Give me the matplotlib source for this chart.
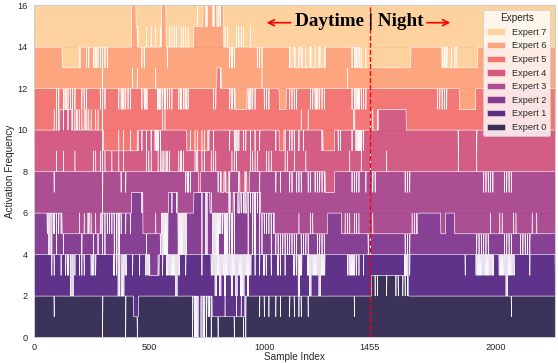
import numpy as np
import matplotlib
matplotlib.use("Agg")
import matplotlib.pyplot as plt
import seaborn as sns

# ---------------- data ----------------
N_SAMPLES = 2257
BLOCK = 10                     # samples per code character
experts = [f"Expert {i}" for i in range(8)]
x_ticks = [0, 500, 1000, 1455, 2000]
y_ticks = list(range(0, 17, 2))
split_index = 1455

# Cumulative activation level reached after each expert (expert 0 .. expert 6),
# read from the picture as offset from its nominal level 2*(k+1), one code per 10 samples.
# '.'=0 '-'=-1 '='=-2 '+'=+1 '#'=+2 ; lower/upper case letters add 1-sample spikes:
# v/V dip -1, w/W dip -2, ^/A spike +1, u: -1 spiking to 0, y: -1 dipping to -2,
# n: +1 dipping to 0, h: +1 spiking to +2, k: +2 dipping to +1, q/Q: +1 dipping to -2
level_after_expert0 = (
    "........v." ".........." ".........w" ".........w" "...-y....."
    ".........." "........wW" "W=wWwVw--y" "--u---yu-u" "yw.....v.v"
    ".v..v.v..." "v.v.vv..v." ".........." "........v." "......+nn+"
    "++n+++nn+n" "nn........" ".........." ".........." ".........."
    "......v..." ".........." "......"
)
level_after_expert1 = (
    ".......vv." ".v.vVwWv.v" "vv..vVv..." "....VvWwWV" "..v..v..VV"
    "---u.v.VVV" "VWV..v...." "..v...vVWV" "WVWVVWVWVW" "WVWV.v.v.V"
    "v.v..Vv.v." "..VvWV..VW" "VVVWVV...." ".....vVVVv" "v.v......."
    ".........." "VVv......." ".........." "......v..." ".VVVVVVVV."
    ".VVVWVVV.." "....v....." ".....v"
)
level_after_expert2 = (
    ".....vWwVw" "vvy------u" "yu-vuyuyuw" "wvvvwwWv.v" ".v++++n-y-"
    "--u-yWWW+n" "+nWWWW...+" "++q+Q+^WWW" "VvWWqWq+^n" "n^qnqQnqwv"
    "vvwvyyyyyy" "yyyyuyyyyu" "u-yyyy-..." "...-uuu-uu" "u---yyu---"
    "----------" "yyyuuu...." "......--.." "..--------" "-yyyyyyu--"
    "-uuyyyyuu-" "yyyyyu-u--" "------"
)
level_after_expert3 = (
    "........v^" "..^....^.." ".....^^.^w" "^..^..^v^v" "........^^"
    "^..^^A^A^." "..^A^vVv.^" "A-^^..^^^v" "v-v-v^^^v-" "-v-^^^^v.."
    "^^^.v.v.^^" "vv^vvv.^vv" ".vvvvv----" "......^vvv" "v^.v.^vv.."
    "..^......." "vvv......." ".........." "...^......" ".^..vvvvv."
    "...vvvv..." ".........." "......"
)
level_after_expert4 = (
    "........^^" "^+n+n+^^A^" "^^A^^.^^.w" "------u-u-" "-u--u.v.v."
    "v.VVv^^..." "......-u-u" "u-uu-v.v.." "....v.vVv." "vv.v.v.v.."
    "....v.--v." "vvv.v^v.^." "....v-----" ".vv....vAV" "VVv..^^.^+"
    "++++++++++" "+........." ".........." "...v......" ".v........"
    ".........." ".........." "......"
)
level_after_expert5 = (
    ".........v" "v.vVvvvv.." "vvv.....vw" "v.....vvVv" "vv^.^.vvV."
    "..^VVvVvvv" "..vVvVv..." ".......vv+" "n...vVv---" "--vVvv..^v"
    "vv....---." "vvvv.....v" "vvVvvv...." ".....^.vvV" "Vvvv......"
    ".........." ".........." "....vvvvv." "....------" "-........."
    ".........." ".........." "......"
)
level_after_expert6 = (
    ".........." "..-------u" "..vv.vVvvw" "vv........" "..##n.vv^."
    "^.^.^##v^^" "^^.^^^^..+" "h++#h##h#h" "k#^^vVv^^^" "^..^..vvv."
    ".........." "v-v-uv-u-v" "-u-v-u...." ".......vvu" "vu-u------"
    "----------" "---......." "......vuv-" "u-v-------" "--........"
    ".........." ".........." "......"
)
level_codes = [level_after_expert0, level_after_expert1, level_after_expert2,
               level_after_expert3, level_after_expert4, level_after_expert5,
               level_after_expert6]

CODE = {'.': (0, []), '-': (-1, []), '=': (-2, []), '+': (1, []), '#': (2, []),
        'v': (0, [-1]), 'V': (0, [-1, -1]), 'w': (0, [-2]), 'W': (0, [-2, -2]),
        '^': (0, [1]), 'A': (0, [1, 1]), 'u': (-1, [0]), 'y': (-1, [-2]),
        'n': (1, [0]), 'h': (1, [2]), 'k': (2, [1]), 'd': (-2, [-1]),
        'q': (1, [-2]), 'Q': (1, [-2, -2])}


def decode(code, nominal):
    out = []
    for ch in code:
        base, spikes = CODE[ch]
        blk = [nominal + base] * BLOCK
        pos = [5] if len(spikes) == 1 else [2, 7]
        for p, s in zip(pos, spikes):
            blk[p] = nominal + s
        out.extend(blk)
    return np.array(out[:N_SAMPLES], dtype=float)


levels = [np.zeros(N_SAMPLES)]
for k, code in enumerate(level_codes):
    levels.append(decode(code, 2 * (k + 1)))
levels.append(np.full(N_SAMPLES, 16.0))
levels = np.maximum.accumulate(np.vstack(levels), axis=0)
expert_values = np.diff(levels, axis=0)        # activation frequency of each expert
sample_index = np.arange(N_SAMPLES)

# ---------------- plot ----------------
sns.set_theme(style="whitegrid", context="notebook")
plt.rcParams['font.family'] = ['Liberation Sans', 'DejaVu Sans']

fig, ax = plt.subplots(figsize=(9.3, 6.05), dpi=60)
fig.subplots_adjust(left=0.061, right=0.9946, top=0.986, bottom=0.0716)

colors = sns.color_palette("magma", 8)
ax.stackplot(sample_index, expert_values, labels=experts, colors=colors,
             alpha=0.85, linewidth=0.6, edgecolor='white')
ax.grid(False, axis='x')

ax.axvline(split_index, color='red', linestyle='--', linewidth=1.6)

ax.set_xlim(0, N_SAMPLES - 1)
ax.set_ylim(0, 16)
ax.set_xticks(x_ticks)
ax.set_yticks(y_ticks)
ax.tick_params(axis='x', pad=1)
ax.tick_params(axis='y', pad=2)
ax.set_xlabel("Sample Index", labelpad=0)
ax.set_ylabel("Activation Frequency", labelpad=3)

ax.text(1407, 15.2, "Daytime | Night", ha='center', va='center',
        fontsize=23, fontweight='bold', family=['Liberation Serif', 'DejaVu Serif'],
        color='black')
ax.annotate("", xy=(1000, 15.15), xytext=(1118, 15.15),
            arrowprops=dict(arrowstyle='->', color='red', lw=2, mutation_scale=18))
ax.annotate("", xy=(1810, 15.15), xytext=(1694, 15.15),
            arrowprops=dict(arrowstyle='->', color='red', lw=2, mutation_scale=18))

handles, labels = ax.get_legend_handles_labels()
ax.legend(handles[::-1], labels[::-1], title="Experts", loc="upper right")

fig.savefig("out.png", dpi=60)
